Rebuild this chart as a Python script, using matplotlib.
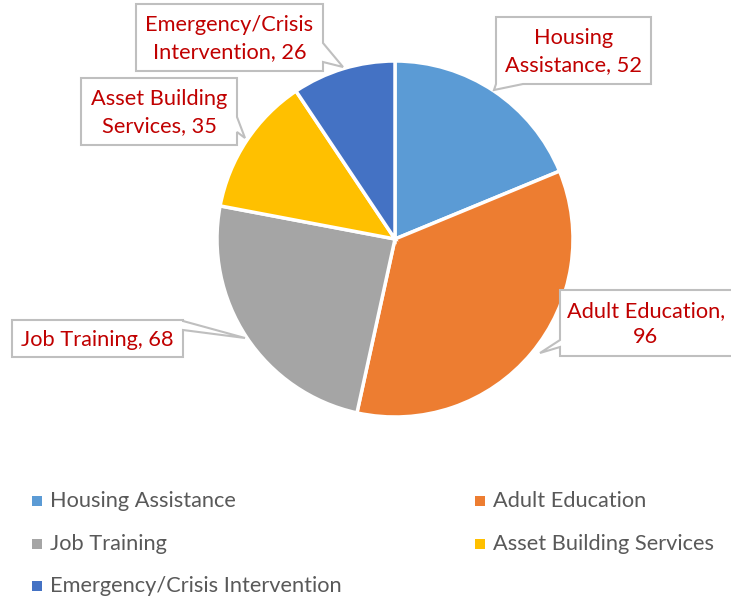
import matplotlib.pyplot as plt
from matplotlib.patches import Polygon

plt.rcParams["font.family"] = ["Lato", "DejaVu Sans"]

categories = [
    "Housing Assistance",
    "Adult Education",
    "Job Training",
    "Asset Building Services",
    "Emergency/Crisis Intervention",
]
values = [52, 96, 68, 35, 26]
label_texts = [
    "Housing\nAssistance, 52",
    "Adult Education,\n96",
    "Job Training, 68",
    "Asset Building\nServices, 35",
    "Emergency/Crisis\nIntervention, 26",
]
colors = ["#5B9BD5", "#ED7D31", "#A5A5A5", "#FFC000", "#4472C4"]

W, H = 731, 598
CENTER = (395, 239)
RADIUS = 178

# callout boxes in pixel coords: (x0, y0, x1, y1), pointer edge, base pts, tip
CALLOUTS = [
    ((496, 17, 651, 84), "bottom", (523, 496), (494, 90)),
    ((560, 290, 740, 356), "left", (347, 340), (540, 353)),
    ((12, 320, 183, 357), "right", (321, 330), (245, 338)),
    ((81, 78, 237, 145), "right", (117, 132), (245, 138)),
    ((136, 4, 323, 71), "right", (43, 62), (343, 67)),
]


def callout_polygon(box, edge, base, tip):
    x0, y0, x1, y1 = box
    pts = [(x0, y0), (x1, y0)]
    if edge == "right":
        pts += [(x1, base[0]), tip, (x1, base[1])]
    pts.append((x1, y1))
    if edge == "bottom":
        pts += [(base[0], y1), tip, (base[1], y1)]
    pts.append((x0, y1))
    if edge == "left":
        pts += [(x0, base[0]), tip, (x0, base[1])]
    return pts


fig = plt.figure(figsize=(W / 100, H / 100), dpi=100)
ax = fig.add_axes([0, 0, 1, 1])

ax.pie(
    values,
    colors=colors,
    startangle=-90,
    counterclock=True,
    center=CENTER,
    radius=RADIUS,
    wedgeprops=dict(edgecolor="white", linewidth=2.5),
)
ax.set_xlim(0, W)
ax.set_ylim(H, 0)
ax.set_axis_off()

for text, (box, edge, base, tip) in zip(label_texts, CALLOUTS):
    poly = Polygon(
        callout_polygon(box, edge, base, tip),
        closed=True,
        facecolor="white",
        edgecolor="#BFBFBF",
        linewidth=1.5,
        zorder=3,
    )
    ax.add_patch(poly)
    x0, y0, x1, y1 = box
    cx = (x0 + x1) / 2 if edge != "left" else 646
    ax.text(cx, (y0 + y1) / 2 + 1, text, ha="center", va="center",
            color="#C00000", fontsize=15.7, linespacing=1.4, zorder=4)

# legend, row-major in two columns
leg_pos = [(37, 501), (480, 501), (37, 544), (480, 544), (37, 586)]
for name, col, (lx, ly) in zip(categories, colors, leg_pos):
    ax.scatter([lx], [ly], marker="s", s=45, color=col, linewidths=0)
    ax.text(lx + 13, ly, name, ha="left", va="center",
            color="#595959", fontsize=15.7)

fig.savefig("out.png", dpi=100)
